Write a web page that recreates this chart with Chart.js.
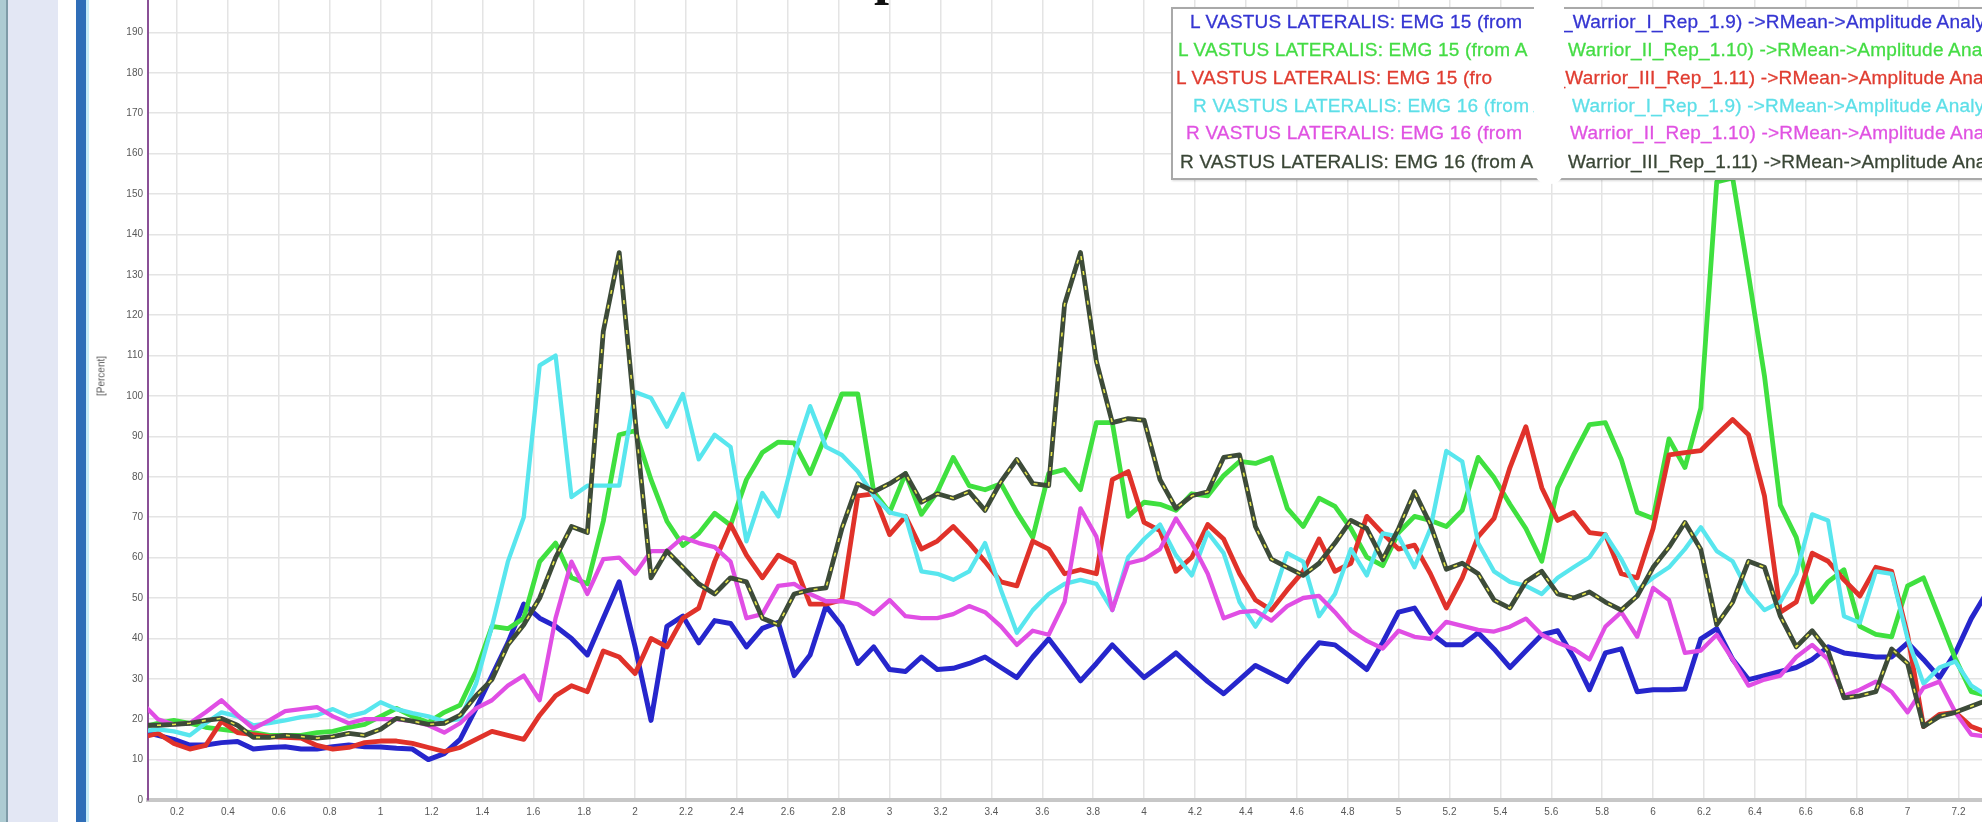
<!DOCTYPE html>
<html>
<head>
<meta charset="utf-8">
<title>Vastus lateralis EMG amplitude</title>
<script src="https://cdn.jsdelivr.net/npm/chart.js@4.4.1/dist/chart.umd.min.js"></script>
<style>
  html, body { margin: 0; padding: 0; background: #fff; }
  body { width: 1982px; height: 822px; overflow: hidden; position: relative;
         font-family: "Liberation Sans", Arial, sans-serif; }
  .strip { position: absolute; top: 0; height: 822px; }
  #chartWrap { position: absolute; left: 0; top: -40px; width: 2100px; height: 862px; z-index: 1; }
  #legendBox { position: absolute; left: 1171px; top: 7px; width: 900px; height: 169px;
               border: 2px solid #a9a9a9; background: #fff; z-index: 2;
               box-shadow: 1px 1px 2px rgba(0,0,0,0.15); }
  .legRow { position: absolute; font-size: 19px; letter-spacing: 0.2px; line-height: 20px;
            white-space: nowrap; z-index: 3; -webkit-text-stroke: 0.3px currentColor; }
  #gap { position: absolute; left: 1534px; top: 0; width: 30px; height: 184px; background: #fff;
         border-radius: 0 0 14px 14px; z-index: 4; }
  #yTitle { position: absolute; left: 101px; top: 376px; transform: translate(-50%, -50%) rotate(-90deg);
            font-size: 10px; color: #5a5a5a; z-index: 2; white-space: nowrap; }
  #titleText { position: absolute; left: 874px; top: -52px; font-family: "Liberation Serif", serif;
               font-weight: bold; font-size: 54px; line-height: 54px; color: #111; z-index: 3; }
</style>
</head>
<body>
<div class="strip" style="left:0;width:6px;background:#adcbd2;"></div>
<div class="strip" style="left:6px;width:2px;background:#7f9ba7;"></div>
<div class="strip" style="left:8px;width:50px;background:#e3e7f4;"></div>
<div class="strip" style="left:76px;width:10px;background:#2f6eb8;"></div>
<div class="strip" style="left:86px;width:3px;background:#c6ebf8;"></div>

<div id="titleText">p</div>
<div id="yTitle">[Percent]</div>

<div id="chartWrap"><canvas id="emgChart" width="2100" height="862" style="width:2100px;height:862px;"></canvas></div>

<div id="legendBox"></div>
<div id="legendRows"></div>
<div id="gap"></div>

<script>
// Sample times (s), 16 samples per second
const times = [
  0.0625, 0.125, 0.1875, 0.25, 0.3125, 0.375, 0.4375, 0.5, 0.5625, 0.625,
  0.6875, 0.75, 0.8125, 0.875, 0.9375, 1, 1.0625, 1.125, 1.1875, 1.25,
  1.3125, 1.375, 1.4375, 1.5, 1.5625, 1.625, 1.6875, 1.75, 1.8125, 1.875,
  1.9375, 2, 2.0625, 2.125, 2.1875, 2.25, 2.3125, 2.375, 2.4375, 2.5,
  2.5625, 2.625, 2.6875, 2.75, 2.8125, 2.875, 2.9375, 3, 3.0625, 3.125,
  3.1875, 3.25, 3.3125, 3.375, 3.4375, 3.5, 3.5625, 3.625, 3.6875, 3.75,
  3.8125, 3.875, 3.9375, 4, 4.0625, 4.125, 4.1875, 4.25, 4.3125, 4.375,
  4.4375, 4.5, 4.5625, 4.625, 4.6875, 4.75, 4.8125, 4.875, 4.9375, 5,
  5.0625, 5.125, 5.1875, 5.25, 5.3125, 5.375, 5.4375, 5.5, 5.5625, 5.625,
  5.6875, 5.75, 5.8125, 5.875, 5.9375, 6, 6.0625, 6.125, 6.1875, 6.25,
  6.3125, 6.375, 6.4375, 6.5, 6.5625, 6.625, 6.6875, 6.75, 6.8125, 6.875,
  6.9375, 7, 7.0625, 7.125, 7.1875, 7.25, 7.3125
];

// L VASTUS LATERALIS, EMG 15 — Warrior I / II / III
const emg15WarriorI = [
  17, 16, 15, 13.6, 13.6, 14.2, 14.5, 12.6, 13, 13.2,
  12.6, 12.6, 13.2, 13.6, 13.2, 13.1, 12.8, 12.6, 10, 11.5,
  15, 22.7, 30.8, 38.9, 48.5, 45, 43, 40, 35.9, 45,
  54, 37.9, 19.7, 43, 45.5, 38.9, 44.4, 43.7, 37.9, 42.5,
  44, 30.8, 35.9, 48, 43, 33.8, 37.9, 32.3, 31.8, 35.4,
  32.3, 32.6, 33.8, 35.4, 32.8, 30.3, 35.4, 39.9, 34.8, 29.5,
  33.8, 38.4, 34.3, 30.3, 33.3, 36.4, 32.8, 29.3, 26.3, 29.8,
  33.3, 31.3, 29.3, 34.3, 38.9, 38.4, 35.4, 32.3, 39, 46.5,
  47.5, 41.4, 38.4, 38.4, 41.4, 37.4, 32.8, 36.9, 40.9, 41.9,
  35.4, 27.3, 36.4, 37.4, 26.8, 27.3, 27.3, 27.5, 39.9, 42.4,
  34.8, 29.8, 30.8, 31.8, 32.8, 34.8, 37.9, 36.4, 35.9, 35.4,
  35.4, 38.9, 34.8, 30.3, 36.4, 44.9, 51.5
];
const emg15WarriorII = [
  18, 19, 19.7, 19, 18, 17.5, 17, 16.7, 16, 16,
  16, 16.7, 17, 18, 18.7, 20.7, 22.7, 20.7, 19.2, 21.7,
  23.5, 31.8, 43, 42.4, 45, 59, 63.6, 55, 53.5, 69,
  90.4, 91.4, 79.3, 69, 63, 66, 71, 68, 79.3, 86,
  88.6, 88.4, 80.8, 90.4, 100.5, 100.5, 76.3, 71.2, 80.8, 70.7,
  76.3, 84.8, 77.8, 76.8, 78.3, 71.2, 65, 80.8, 81.8, 76.8,
  93.4, 93.4, 70.2, 73.7, 73.2, 71.7, 75.8, 75.3, 80.3, 83.8,
  83.3, 84.8, 72.2, 67.7, 74.7, 72.7, 67.2, 60.1, 58, 66.2,
  70.2, 69.2, 67.7, 71.7, 84.8, 79.8, 73.2, 67.2, 59.1, 77.3,
  85.4, 92.9, 93.4, 84.3, 71.2, 69.7, 89.4, 82.3, 97, 153,
  154, 130, 105, 73, 65, 49, 54, 57, 43, 41,
  40.4, 53, 55, 45, 35, 26.8, 25.8
];
const emg15WarriorIII = [
  15.5, 16.5, 14, 12.6, 13.5, 19.5, 16.7, 16.2, 15.7, 15.5,
  15.3, 13.5, 12.6, 13, 14.2, 14.6, 14.6, 14, 13, 12,
  13, 15, 17, 16, 15, 21, 25.8, 28.3, 26.8, 36.9,
  35.4, 31.3, 40, 37.9, 45, 47.5, 59, 68.2, 60.6, 55,
  60.6, 58.6, 48.5, 48.5, 49.5, 75.3, 75.8, 65.7, 70.2, 62.1,
  64.1, 67.7, 63.6, 59, 54, 53, 64.1, 62.1, 56, 57,
  56, 79.3, 81.3, 68.7, 66.7, 56.6, 60.1, 68.2, 64.6, 56,
  49.5, 47, 52, 56.6, 64.6, 56.6, 58.6, 70.2, 66, 62.1,
  63.1, 56, 47.5, 55, 65.2, 69.7, 82.3, 92.4, 77.3, 69.2,
  71.2, 66.2, 65.7, 56, 55, 67.2, 85.4, 86, 86.5, 90.4,
  94.2, 90.4, 75.3, 46.5, 49, 61.1, 59.1, 54.5, 50.5, 57.6,
  56.6, 40.9, 18.2, 21.2, 21.7, 18.2, 16.7
];

// R VASTUS LATERALIS, EMG 16 — Warrior I / II / III
const emg16WarriorI = [
  17, 17.5, 17, 16, 19, 21.7, 20.7, 18.5, 19, 19.7,
  20.5, 21, 22.5, 20.7, 21.7, 24.2, 22.5, 21.5, 20.7, 19.5,
  20, 28.8, 43, 59, 70, 107.6, 110, 75, 77.8, 77.8,
  77.8, 101, 99.5, 92.4, 100.5, 84.3, 90.4, 87.4, 64, 76,
  70.2, 85.4, 97.5, 87.4, 85.4, 81.3, 75.3, 71.2, 70.2, 56.6,
  56, 54.5, 56.6, 63.6, 52, 41.4, 47, 51, 53.5, 54.5,
  53.5, 47, 60.1, 64.6, 68.2, 60.6, 55.6, 66.2, 61.1, 49,
  42.9, 49, 61.1, 59, 45.5, 51, 62.1, 55.6, 66, 65.2,
  57.6, 67.2, 86.4, 83.8, 63.6, 56.6, 54, 53, 51, 55,
  57.6, 60.1, 65.7, 59.6, 52, 55, 57.6, 62.1, 67.5, 61.6,
  59.1, 51.5, 47, 49, 56, 70.7, 69.2, 45.5, 43.9, 56.6,
  56, 39.9, 28.8, 32.8, 34.3, 28.3, 25.8
];
const emg16WarriorII = [
  24, 20, 18.7, 19, 21.7, 24.7, 21, 17.7, 19.7, 22,
  22.5, 23, 20.7, 19, 20, 20, 20, 19.5, 18.5, 16.7,
  19, 22.7, 24.7, 28.3, 30.8, 24.7, 45, 59, 51, 59.6,
  60, 56, 61.6, 61.6, 65, 63.6, 62.6, 59, 45, 46,
  53, 53.5, 51, 49.2, 49.2, 48.5, 46, 49.5, 45.5, 45,
  45, 46, 48, 46.5, 43, 38.4, 41.9, 40.9, 49, 72.2,
  65.2, 47, 58.6, 59.6, 62.1, 69.7, 63.6, 56, 45, 46.5,
  46.8, 44.4, 48, 50, 50.5, 46.5, 41.9, 39.4, 37.5, 41.9,
  40.4, 39.9, 44.1, 43.1, 42.1, 41.7, 42.9, 44.9, 40.9, 38.9,
  37.4, 34.8, 42.9, 46.5, 40.4, 52.5, 49.5, 36.4, 37, 40.9,
  34.8, 28.3, 29.8, 30.8, 35.4, 38.4, 34.8, 25.8, 27.3, 29.3,
  26.8, 21.7, 27.8, 29.3, 21.7, 16.2, 15.7
];
const emg16WarriorIII = [
  18.5, 18.5, 18.7, 19, 19.7, 20.2, 18.5, 15.5, 15.5, 16,
  15.7, 15.3, 15.7, 16.5, 16, 17.5, 20.2, 19.5, 18.7, 19,
  21, 25.8, 29.8, 38.4, 43.4, 50, 60, 67.7, 66.2, 116,
  135.5, 94.4, 55, 61.6, 57.6, 53.5, 51, 55, 54, 45,
  43.4, 51, 52, 52.5, 67.2, 78.3, 76.3, 78.3, 80.8, 73.7,
  75.8, 74.7, 76.3, 71.7, 78.8, 84.3, 78.3, 77.8, 122.7, 135.5,
  108.6, 93.4, 94.4, 94, 79.3, 72.2, 75.3, 76.3, 84.8, 85.4,
  67.7, 59.6, 57.6, 55.6, 58.6, 63.6, 69.2, 67.2, 59.5, 67.2,
  76.3, 68.2, 57.1, 58.6, 56, 49.5, 47.5, 54, 56.6, 51,
  50, 51.5, 49, 47, 50.5, 57.6, 62.6, 68.7, 62, 43.4,
  49, 59.1, 57.6, 45.5, 37.9, 41.9, 36.9, 25.3, 25.8, 26.8,
  37.4, 33.8, 18.2, 20.7, 21.7, 23.2, 24.7
];

// Axis tick labels
const xTickLabels = ['0.2','0.4','0.6','0.8','1','1.2','1.4','1.6','1.8','2',
  '2.2','2.4','2.6','2.8','3','3.2','3.4','3.6','3.8','4',
  '4.2','4.4','4.6','4.8','5','5.2','5.4','5.6','5.8','6',
  '6.2','6.4','6.6','6.8','7','7.2','7.4','7.6'];
const yTickLabels = ['0','10','20','30','40','50','60','70','80','90','100',
  '110','120','130','140','150','160','170','180','190','200'];

// Legend text (the middle of each entry is hidden behind the white gap)
const legendHeads = [
  'L VASTUS LATERALIS: EMG 15 (from',
  'L VASTUS LATERALIS: EMG 15 (from A',
  'L VASTUS LATERALIS: EMG 15 (fro',
  'R VASTUS LATERALIS: EMG 16 (from A',
  'R VASTUS LATERALIS: EMG 16 (from',
  'R VASTUS LATERALIS: EMG 16 (from A'
];
const legendTails = [
  '_Warrior_I_Rep_1.9) ->RMean->Amplitude Analysis',
  'Warrior_II_Rep_1.10) ->RMean->Amplitude Analysis',
  '\\_Warrior_III_Rep_1.11) ->RMean->Amplitude Analysis',
  'Warrior_I_Rep_1.9) ->RMean->Amplitude Analysis',
  'Warrior_II_Rep_1.10) ->RMean->Amplitude Analysis',
  'Warrior_III_Rep_1.11) ->RMean->Amplitude Analysis'
];

const series = [
  { values: emg15WarriorI,   color: '#2626cc', text: '#3535d2', order: 6, width: 5 },
  { values: emg15WarriorII,  color: '#3fe03f', text: '#44dc44', order: 5, width: 4.8 },
  { values: emg15WarriorIII, color: '#e0322a', text: '#e03c30', order: 4, width: 4.8 },
  { values: emg16WarriorI,   color: '#58e6ee', text: '#5ddfe8', order: 3, width: 4.3 },
  { values: emg16WarriorII,  color: '#e04ee4', text: '#e052e2', order: 2, width: 4.3 },
  { values: emg16WarriorIII, color: '#3d4b39', text: '#3a4636', order: 1, width: 4.8 }
];

const toPoints = vals => vals.map((v, i) => ({ x: times[i], y: v }));

const datasets = series.map((s, i) => ({
  label: legendHeads[i] + ' ' + legendTails[i],
  data: toPoints(s.values),
  borderColor: s.color,
  borderWidth: s.width,
  pointRadius: 0,
  tension: 0,
  fill: false,
  clip: 0,
  order: s.order,
  borderJoinStyle: 'round',
  borderCapStyle: 'round'
}));
// yellow dashes running along the Warrior III right-leg trace
datasets.push({
  label: 'R VASTUS LATERALIS: EMG 16 dashes',
  data: toPoints(emg16WarriorIII),
  borderColor: '#e9e94a',
  borderWidth: 1.6,
  borderDash: [4, 11],
  pointRadius: 0,
  tension: 0,
  fill: false,
  clip: 0,
  order: 0
});

const tickFont = { family: '"Liberation Sans", Arial, sans-serif', size: 10 };

new Chart(document.getElementById('emgChart'), {
  type: 'line',
  data: { datasets },
  options: {
    responsive: false,
    animation: false,
    devicePixelRatio: 1,
    layout: { padding: { top: 32, left: 0, right: 0, bottom: 0 } },
    plugins: { legend: { display: false }, tooltip: { enabled: false }, title: { display: false } },
    scales: {
      x: {
        type: 'linear',
        min: 0.086,
        max: 7.756,
        afterBuildTicks: s => { s.ticks = xTickLabels.map(l => ({ value: parseFloat(l) })); },
        afterFit: s => { s.height = 22; },
        ticks: {
          callback: (v, i) => xTickLabels[i],
          font: tickFont, color: '#585858', padding: 6,
          maxRotation: 0, autoSkip: false
        },
        grid: { color: '#e4e4e4', lineWidth: 1.5, drawTicks: false },
        border: { color: '#c7c7c7', width: 4 }
      },
      y: {
        type: 'linear',
        min: 0,
        max: 200,
        afterBuildTicks: s => { s.ticks = yTickLabels.map(l => ({ value: parseFloat(l) })); },
        afterFit: s => { s.width = 148; },
        ticks: {
          callback: (v, i) => yTickLabels[i],
          font: tickFont, color: '#585858', padding: 5
        },
        grid: { color: '#e4e4e4', lineWidth: 1.5, drawTicks: false },
        border: { color: '#8a5096', width: 2 }
      }
    }
  }
});

// Legend rows
const headLeft = [1190, 1178, 1176, 1193, 1186, 1180];
const tailLeft = [1562, 1568, 1549, 1572, 1570, 1568];
const rowTop = [12, 40, 68, 96, 123, 152];
const rows = document.getElementById('legendRows');
series.forEach((s, i) => {
  const h = document.createElement('div');
  h.className = 'legRow';
  h.style.left = headLeft[i] + 'px';
  h.style.top = rowTop[i] + 'px';
  h.style.color = s.text;
  h.textContent = legendHeads[i];
  rows.appendChild(h);
  const t = document.createElement('div');
  t.className = 'legRow';
  t.style.left = tailLeft[i] + 'px';
  t.style.top = rowTop[i] + 'px';
  t.style.color = s.text;
  t.textContent = legendTails[i];
  rows.appendChild(t);
});
</script>
</body>
</html>
